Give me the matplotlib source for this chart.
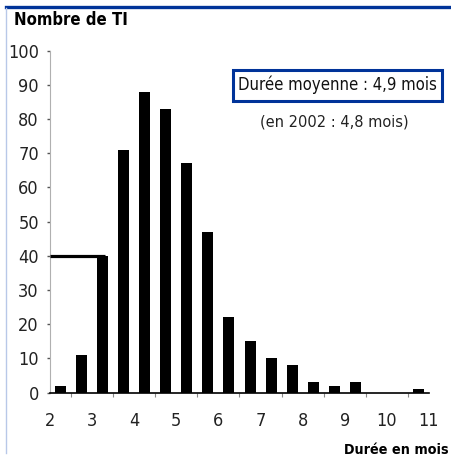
import matplotlib
matplotlib.use("Agg")
import os
import matplotlib.pyplot as plt
from matplotlib import font_manager as fm
from matplotlib.patches import Rectangle
from matplotlib.lines import Line2D
import numpy as np

# Data: counts per half-month duration class (2-2.5, 2.5-3, ..., 10.5-11)
bin_starts = [2.0, 2.5, 3.0, 3.5, 4.0, 4.5, 5.0, 5.5, 6.0, 6.5, 7.0, 7.5, 8.0, 8.5, 9.0, 9.5, 10.0, 10.5]
counts = [2, 11, 40, 71, 88, 83, 67, 47, 22, 15, 10, 8, 3, 2, 3, 0, 0, 1]
x_ticks = [2, 3, 4, 5, 6, 7, 8, 9, 10, 11]
y_ticks = [0, 10, 20, 30, 40, 50, 60, 70, 80, 90, 100]
ref_level = 40


def find_font(patterns):
    files = {os.path.basename(f.fname): f.fname for f in fm.fontManager.ttflist}
    for p in patterns:
        if p in files:
            return p, files[p]
    return None, None


reg_name, reg_path = find_font(['LiberationSansNarrow-Regular.ttf', 'DejaVuSansCondensed.ttf',
                                'RobotoCondensed-Regular.ttf', 'NotoSans-CondensedRegular.ttf'])
bold_name, bold_path = find_font(['LiberationSansNarrow-Bold.ttf', 'DejaVuSansCondensed-Bold.ttf',
                                  'RobotoCondensed-Bold.ttf', 'NotoSans-CondensedBold.ttf'])


def fp(size, bold=False):
    path = bold_path if bold else reg_path
    if path:
        return fm.FontProperties(fname=path, size=size)
    return fm.FontProperties(family=['Liberation Sans', 'DejaVu Sans'], size=size,
                             weight='bold' if bold else 'normal')


condensed = reg_path is not None
k = 1.0 if condensed else 0.9

W, H = 451, 457
fig = plt.figure(figsize=(W / 100, H / 100), dpi=100)

x0, x1 = 50, 429
y0, y1 = 392.5, 50.7
ax = fig.add_axes([x0 / W, (H - y0) / H, (x1 - x0) / W, (y0 - y1) / H])

centers = np.array(bin_starts) + 0.25
ax.bar(centers, counts, width=0.26, color='black', zorder=3)
ax.plot([2, 3.31], [ref_level, ref_level], color='black', lw=2.3, solid_capstyle='butt', zorder=4)

ax.set_xlim(2, 11)
ax.set_ylim(0, 100)
for s in ['top', 'right']:
    ax.spines[s].set_visible(False)
ax.spines['left'].set_color('#b0b0b0')
ax.spines['left'].set_linewidth(0.8)
ax.spines['bottom'].set_color('black')
ax.spines['bottom'].set_linewidth(1.2)

ax.set_yticks(y_ticks)
ax.set_yticklabels([str(v) for v in y_ticks], color='#222222')
ax.tick_params(axis='y', length=2, width=1, color='#555555', pad=6)
for lab in ax.get_yticklabels():
    lab.set_fontproperties(fp(13 * k))

ax.set_xticks(x_ticks)
ax.set_xticklabels([str(v) for v in x_ticks], color='#222222')
ax.tick_params(axis='x', which='major', length=0, pad=14)
for lab in ax.get_xticklabels():
    lab.set_fontproperties(fp(13 * k))
ax.set_xticks(bin_starts + [11.0], minor=True)
ax.tick_params(axis='x', which='minor', length=3, width=0.8, color='#888888', direction='out')

# Frame lines
fig.add_artist(Line2D([6 / W, 1], [1 - 7 / H, 1 - 7 / H], transform=fig.transFigure,
                      color='#003399', lw=2.4))
fig.add_artist(Line2D([6 / W, 6 / W], [1 - 8 / H, 1 - 453 / H], transform=fig.transFigure,
                      color='#b8c8e8', lw=1.0))

fig.text(14 / W, 1 - 20 / H, 'Nombre de TI', fontproperties=fp(12 * k, True),
         ha='left', va='center')
fig.text(449 / W, 1 - 450 / H, 'Durée en mois', fontproperties=fp(10.3 * k, True),
         ha='right', va='center')

# Annotation box
fig.add_artist(Rectangle((233 / W, 1 - 100.5 / H), (442 - 233) / W, 30.5 / H,
                         transform=fig.transFigure, fill=False, edgecolor='#003399', lw=2.2))
fig.text(337.5 / W, 1 - 85 / H, 'Durée moyenne : 4,9 mois', fontproperties=fp(12 * k),
         ha='center', va='center', color='#111111')
fig.text(334 / W, 1 - 122 / H, '(en 2002 : 4,8 mois)', fontproperties=fp(11.7 * k),
         ha='center', va='center', color='#222222')

fig.savefig('out.png', dpi=100)
